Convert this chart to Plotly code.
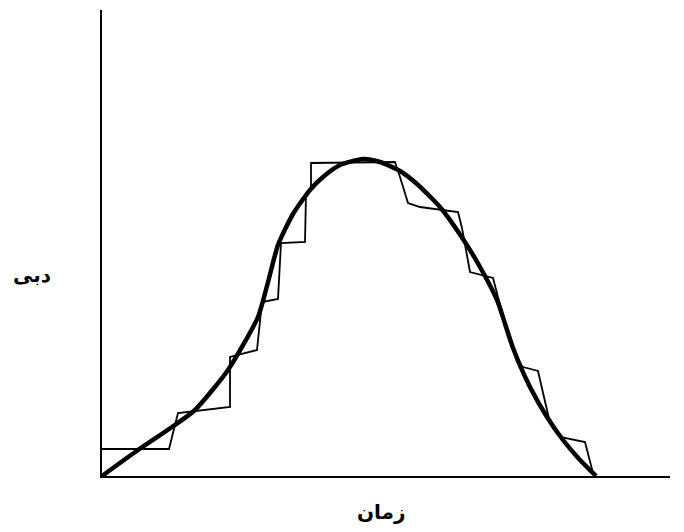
import plotly.graph_objects as go

# Smooth hydrograph (thick curve)
curve_t = [0, 36, 70, 93, 126, 156, 165, 176, 191, 208, 221, 238, 261, 278, 298, 315, 338, 361, 378, 395, 411, 428, 445, 461, 478, 491, 494]
curve_q = [0, 26, 49, 66, 106, 159, 190, 231, 262, 286, 299, 311, 317, 314, 305, 292, 269, 237, 209, 176, 128, 89, 59, 36, 16, 3, 0]

# Stepped approximation (thin line)
step_t = [0, 67, 76, 128, 128, 155, 160, 176, 179, 203, 204, 209, 209, 293, 298, 306, 318, 356, 360, 368, 391, 396, 415, 421, 436, 448, 458, 483, 491]
step_q = [27, 27, 63, 69, 119, 126, 174, 177, 233, 234, 281, 286, 313, 314, 299, 273, 269, 264, 248, 204, 198, 179, 114, 109, 105, 53, 39, 34, 3]

x_label = "زمان"
y_label = "دبی"

# page body has an 8px margin; compensate so plot area lands at page px (102..670, 10..476)
OFF = 8
W, H = 684 - OFF, 532 - OFF
L, R, T, B = 102 - OFF, 14, 10 - OFF, 56

fig = go.Figure()
fig.add_trace(go.Scatter(x=step_t, y=step_q, mode="lines",
                         line=dict(color="black", width=1.8), hoverinfo="skip"))
fig.add_trace(go.Scatter(x=curve_t, y=curve_q, mode="lines",
                         line=dict(color="black", width=4.5, shape="spline", smoothing=0.6),
                         hoverinfo="skip"))


def paper(px, py):
    return ((px - OFF - L) / (W - L - R), (H - B - (py - OFF)) / (H - T - B))


xl = paper(381, 512)
yl = paper(32, 275)

fig.update_layout(
    width=W, height=H,
    margin=dict(l=L, r=R, t=T, b=B),
    plot_bgcolor="white", paper_bgcolor="white",
    showlegend=False,
    xaxis=dict(range=[0, 568], showgrid=False, zeroline=False, showticklabels=False,
               ticks="", showline=True, linecolor="black", linewidth=2),
    yaxis=dict(range=[0, 466], showgrid=False, zeroline=False, showticklabels=False,
               ticks="", showline=True, linecolor="black", linewidth=2),
    annotations=[
        dict(text="<b>" + x_label + "</b>", x=xl[0], y=xl[1], xref="paper", yref="paper", showarrow=False,
             font=dict(family="DejaVu Sans", size=20, color="black"), xanchor="center", yanchor="middle"),
        dict(text="<b>" + y_label + "</b>", x=yl[0], y=yl[1], xref="paper", yref="paper", showarrow=False,
             font=dict(family="DejaVu Sans", size=20, color="black"), xanchor="center", yanchor="middle"),
    ],
)

fig.write_html("out.html")
